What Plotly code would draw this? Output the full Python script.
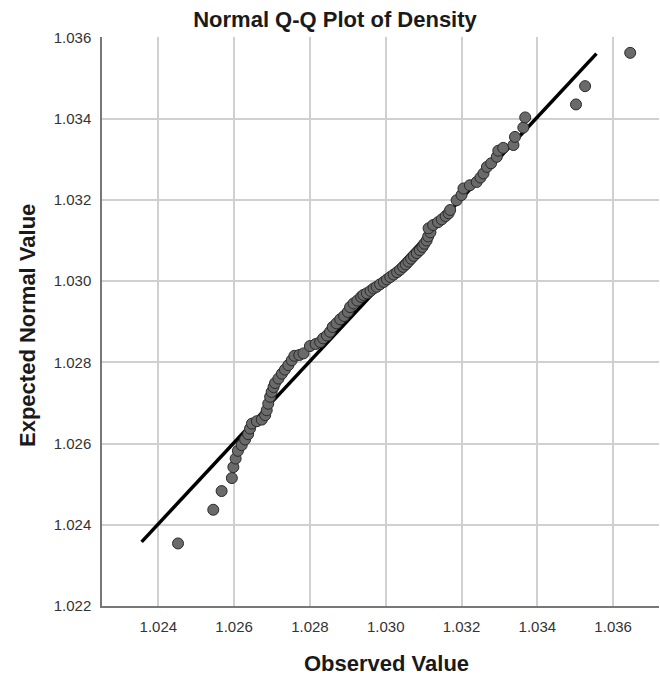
import plotly.graph_objects as go

# Observed (sorted) values and the expected normal values
observed = [
    1.02452, 1.02545, 1.02567, 1.02594, 1.02598, 1.02604, 1.02610, 1.02620, 1.02629, 1.02637,
    1.02642, 1.02647, 1.02660, 1.02673, 1.02682, 1.02686, 1.02690, 1.02695, 1.02699, 1.02704,
    1.02708, 1.02717, 1.02726, 1.02734, 1.02743, 1.02752, 1.02759, 1.02772, 1.02783, 1.02800,
    1.02815, 1.02827, 1.02835, 1.02845, 1.02853, 1.02860, 1.02870, 1.02880, 1.02890, 1.02900,
    1.02906, 1.02915, 1.02925, 1.02935, 1.02941, 1.02950, 1.02960, 1.02968, 1.02976, 1.02985,
    1.02995, 1.03003, 1.03012, 1.03021, 1.03030, 1.03038, 1.03046, 1.03053, 1.03060, 1.03067,
    1.03074, 1.03082, 1.03090, 1.03097, 1.03102, 1.03108, 1.03112, 1.03118, 1.03113, 1.03125,
    1.03138, 1.03148, 1.03158, 1.03166, 1.03170, 1.03187, 1.03200, 1.03205, 1.03222, 1.03240,
    1.03250, 1.03258, 1.03267, 1.03278, 1.03293, 1.03297, 1.03310, 1.03337, 1.03341, 1.03363,
    1.03368, 1.03502, 1.03526, 1.03645,
]
expected = [
    1.02354, 1.02437, 1.02483, 1.02515, 1.02542, 1.02563, 1.02582, 1.02596, 1.02610, 1.02623,
    1.02637, 1.02649, 1.02655, 1.02659, 1.02670, 1.02682, 1.02698, 1.02715, 1.02727, 1.02739,
    1.02749, 1.02760, 1.02772, 1.02782, 1.02793, 1.02805, 1.02816, 1.02818, 1.02822, 1.02840,
    1.02845, 1.02850, 1.02859, 1.02866, 1.02875, 1.02887, 1.02896, 1.02906, 1.02914, 1.02924,
    1.02936, 1.02945, 1.02952, 1.02961, 1.02966, 1.02970, 1.02976, 1.02982, 1.02986, 1.02992,
    1.02998, 1.03004, 1.03010, 1.03016, 1.03022, 1.03028, 1.03035, 1.03041, 1.03048, 1.03055,
    1.03062, 1.03069, 1.03076, 1.03084, 1.03092, 1.03100, 1.03110, 1.03120, 1.03130, 1.03138,
    1.03145, 1.03152, 1.03160, 1.03167, 1.03175, 1.03199, 1.03212, 1.03228, 1.03236, 1.03244,
    1.03255, 1.03265, 1.03281, 1.03290, 1.03306, 1.03321, 1.03328, 1.03335, 1.03355, 1.03378,
    1.03403, 1.03435, 1.03480, 1.03562,
]

# Reference line end points
line_x = [1.02356, 1.03556]
line_y = [1.02358, 1.03560]

x_ticks = [1.024, 1.026, 1.028, 1.030, 1.032, 1.034, 1.036]
y_ticks = [1.022, 1.024, 1.026, 1.028, 1.030, 1.032, 1.034, 1.036]

title_text = "Normal Q-Q Plot of Density"
x_title = "Observed Value"
y_title = "Expected Normal Value"

FONT = "Liberation Sans, Arial, sans-serif"

fig = go.Figure()
fig.add_trace(go.Scatter(
    x=line_x, y=line_y, mode="lines",
    line=dict(color="black", width=3.5), hoverinfo="skip", showlegend=False,
))
fig.add_trace(go.Scatter(
    x=observed, y=expected, mode="markers",
    marker=dict(size=11, color="#6a6a6a", line=dict(color="#2a2a2a", width=1)),
    showlegend=False,
))

fig.update_layout(
    width=660, height=678,
    margin=dict(l=102, r=1, t=37, b=72),
    paper_bgcolor="white", plot_bgcolor="white",
    font=dict(family=FONT, color="#333333"),
    title=dict(text=f"<b>{title_text}</b>", x=335 / 660, xref="container", xanchor="center",
               y=1 - 19 / 678, yref="container", yanchor="middle",
               font=dict(size=22, color="#1a1a1a", family=FONT)),
    xaxis=dict(range=[1.022514, 1.03721], tickvals=x_ticks,
               ticktext=[f"{v:.3f}" for v in x_ticks],
               showgrid=True, gridcolor="#d0d0d0", gridwidth=1.5,
               showline=True, linecolor="#777777", linewidth=1.5,
               zeroline=False, ticks="", tickfont=dict(size=15, color="#333333"),
               ticklabelstandoff=6),
    yaxis=dict(range=[1.022, 1.03601], tickvals=y_ticks,
               ticktext=[f"{v:.3f}" for v in y_ticks],
               showgrid=True, gridcolor="#d0d0d0", gridwidth=1.5,
               showline=True, linecolor="#777777", linewidth=1.5,
               zeroline=False, ticks="", tickfont=dict(size=15, color="#333333"),
               ticklabelstandoff=6),
    annotations=[
        dict(text=f"<b>{x_title}</b>", x=(386 - 102) / 557, y=(606 - 663) / 569,
             xref="paper", yref="paper", xanchor="center", yanchor="middle",
             showarrow=False, font=dict(size=22, color="#1a1a1a", family=FONT)),
        dict(text=f"<b>{y_title}</b>", x=(27 - 102) / 557, y=(606 - 326) / 569,
             xref="paper", yref="paper", xanchor="center", yanchor="middle",
             textangle=-90, showarrow=False,
             font=dict(size=22, color="#1a1a1a", family=FONT)),
    ],
)

fig.write_html("out.html")
